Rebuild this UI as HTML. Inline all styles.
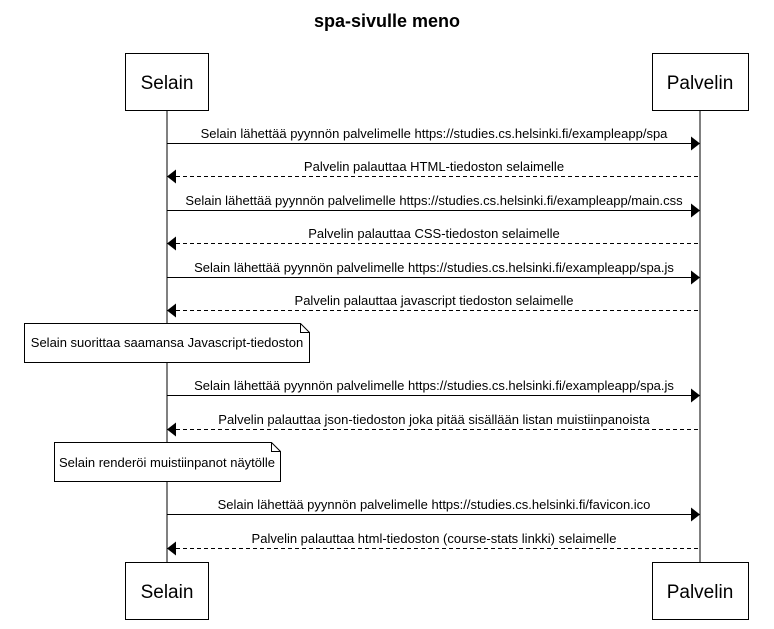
<!DOCTYPE html>
<html><head><meta charset="utf-8"><style>
html,body{margin:0;padding:0;background:#fff}
svg{display:block}
text{font-family:"Liberation Sans",Arial,sans-serif;fill:#000}
</style></head><body>
<svg width="774" height="629" viewBox="0 0 774 629" xmlns="http://www.w3.org/2000/svg">
<text x="387" y="27" font-size="18" font-weight="bold" text-anchor="middle">spa-sivulle meno</text>
<line x1="167" y1="110" x2="167" y2="562" stroke="#000"/>
<line x1="700" y1="110" x2="700" y2="562" stroke="#000"/>
<rect x="125.5" y="53.5" width="83" height="57" fill="#fff" stroke="#000"/>
<text x="167" y="89" font-size="19" text-anchor="middle">Selain</text>
<rect x="652.5" y="53.5" width="96" height="57" fill="#fff" stroke="#000"/>
<text x="700" y="89" font-size="19" text-anchor="middle">Palvelin</text>
<rect x="125.5" y="562.5" width="83" height="57" fill="#fff" stroke="#000"/>
<text x="167" y="598" font-size="19" text-anchor="middle">Selain</text>
<rect x="652.5" y="562.5" width="96" height="57" fill="#fff" stroke="#000"/>
<text x="700" y="598" font-size="19" text-anchor="middle">Palvelin</text>
<g font-size="13" text-anchor="middle">
<line x1="167" y1="143.5" x2="692" y2="143.5" stroke="#000"/><polygon points="700,143.5 691,136.5 691,150.5"/>
<text x="434" y="138">Selain lähettää pyynnön palvelimelle https://studies.cs.helsinki.fi/exampleapp/spa</text>
<line x1="176" y1="176.5" x2="700" y2="176.5" stroke="#000" stroke-dasharray="4,3"/><polygon points="167,176.5 176,169.5 176,183.5"/>
<text x="434" y="171">Palvelin palauttaa HTML-tiedoston selaimelle</text>
<line x1="167" y1="210.5" x2="692" y2="210.5" stroke="#000"/><polygon points="700,210.5 691,203.5 691,217.5"/>
<text x="434" y="205">Selain lähettää pyynnön palvelimelle https://studies.cs.helsinki.fi/exampleapp/main.css</text>
<line x1="176" y1="243.5" x2="700" y2="243.5" stroke="#000" stroke-dasharray="4,3"/><polygon points="167,243.5 176,236.5 176,250.5"/>
<text x="434" y="238">Palvelin palauttaa CSS-tiedoston selaimelle</text>
<line x1="167" y1="277.5" x2="692" y2="277.5" stroke="#000"/><polygon points="700,277.5 691,270.5 691,284.5"/>
<text x="434" y="272">Selain lähettää pyynnön palvelimelle https://studies.cs.helsinki.fi/exampleapp/spa.js</text>
<line x1="176" y1="310.5" x2="700" y2="310.5" stroke="#000" stroke-dasharray="4,3"/><polygon points="167,310.5 176,303.5 176,317.5"/>
<text x="434" y="305">Palvelin palauttaa javascript tiedoston selaimelle</text>
<line x1="167" y1="395.5" x2="692" y2="395.5" stroke="#000"/><polygon points="700,395.5 691,388.5 691,402.5"/>
<text x="434" y="390">Selain lähettää pyynnön palvelimelle https://studies.cs.helsinki.fi/exampleapp/spa.js</text>
<line x1="176" y1="429.5" x2="700" y2="429.5" stroke="#000" stroke-dasharray="4,3"/><polygon points="167,429.5 176,422.5 176,436.5"/>
<text x="434" y="424">Palvelin palauttaa json-tiedoston joka pitää sisällään listan muistiinpanoista</text>
<line x1="167" y1="514.5" x2="692" y2="514.5" stroke="#000"/><polygon points="700,514.5 691,507.5 691,521.5"/>
<text x="434" y="509">Selain lähettää pyynnön palvelimelle https://studies.cs.helsinki.fi/favicon.ico</text>
<line x1="176" y1="548.5" x2="700" y2="548.5" stroke="#000" stroke-dasharray="4,3"/><polygon points="167,548.5 176,541.5 176,555.5"/>
<text x="434" y="543">Palvelin palauttaa html-tiedoston (course-stats linkki) selaimelle</text>
<polygon points="24.5,323.5 300.5,323.5 309.5,332.5 309.5,362.5 24.5,362.5" fill="#fff" stroke="#000"/>
<polyline points="300.5,323.5 300.5,332.5 309.5,332.5" fill="none" stroke="#000"/>
<text x="167" y="347">Selain suorittaa saamansa Javascript-tiedoston</text>
<polygon points="54.5,442.5 271.5,442.5 280.5,451.5 280.5,481.5 54.5,481.5" fill="#fff" stroke="#000"/>
<polyline points="271.5,442.5 271.5,451.5 280.5,451.5" fill="none" stroke="#000"/>
<text x="167" y="467">Selain renderöi muistiinpanot näytölle</text>
</g>
</svg>
</body></html>
